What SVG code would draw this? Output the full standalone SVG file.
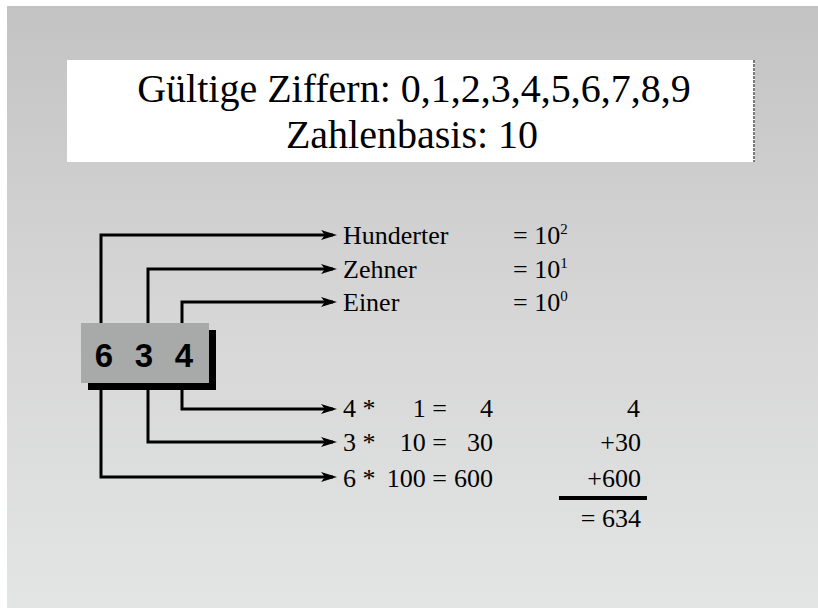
<svg xmlns="http://www.w3.org/2000/svg" width="818" height="608" viewBox="0 0 818 608">
<defs>
<linearGradient id="bg" x1="0" y1="0" x2="0" y2="1">
<stop offset="0" stop-color="#c3c3c3"/>
<stop offset="0.5" stop-color="#d6d6d6"/>
<stop offset="1" stop-color="#e3e4e4"/>
</linearGradient>
<marker id="arr" markerUnits="userSpaceOnUse" markerWidth="18" markerHeight="12" refX="12" refY="5" orient="auto">
<path d="M0,0 L16,5 L0,10 L4,5 z" fill="#000"/>
</marker>
<style>
.t{font-family:"Liberation Serif","Times New Roman",serif;fill:#000}
.lbl{font-size:26px}
.sup{font-size:15px}
.conn{fill:none;stroke:#000;stroke-width:3;marker-end:url(#arr)}
</style>
</defs>
<rect x="0" y="0" width="818" height="608" fill="#fff"/>
<rect x="7" y="6" width="811" height="602" fill="url(#bg)"/>
<g id="title">
<rect x="67" y="60" width="688" height="102" fill="#fff"/>
<line x1="754" y1="60" x2="754" y2="162" stroke="#7a7a7a" stroke-width="2" stroke-dasharray="3,1"/>
<text class="t" x="414" y="102" font-size="40" text-anchor="middle">Gültige Ziffern: 0,1,2,3,4,5,6,7,8,9</text>
<text class="t" x="412" y="148" font-size="40" text-anchor="middle">Zahlenbasis: 10</text>
</g>
<g id="number">
<rect x="88" y="330" width="128" height="60" fill="#000"/>
<rect x="81" y="323" width="128" height="60" fill="#a8aaaa"/>
<text x="104" y="367" font-family="'Liberation Sans',Arial,sans-serif" font-weight="bold" font-size="33" text-anchor="middle">6</text>
<text x="144" y="367" font-family="'Liberation Sans',Arial,sans-serif" font-weight="bold" font-size="33" text-anchor="middle">3</text>
<text x="184" y="367" font-family="'Liberation Sans',Arial,sans-serif" font-weight="bold" font-size="33" text-anchor="middle">4</text>
</g>
<g id="connectors">
<path class="conn" d="M101,323 V235 H333"/>
<path class="conn" d="M148,323 V269 H333"/>
<path class="conn" d="M182,323 V302 H333"/>
<path class="conn" d="M182,388 V409 H333"/>
<path class="conn" d="M148,388 V442 H333"/>
<path class="conn" d="M101,388 V477 H333"/>
</g>
<g id="hunderter">
<text class="t lbl" x="343" y="244">Hunderter</text>
<text class="t lbl" x="513" y="244">= 10<tspan class="sup" dy="-10">2</tspan></text>
</g>
<g id="zehner">
<text class="t lbl" x="343" y="278">Zehner</text>
<text class="t lbl" x="513" y="278">= 10<tspan class="sup" dy="-10">1</tspan></text>
</g>
<g id="einer">
<text class="t lbl" x="343" y="311">Einer</text>
<text class="t lbl" x="513" y="311">= 10<tspan class="sup" dy="-10">0</tspan></text>
</g>
<g id="calc1">
<text class="t lbl" x="343" y="417">4 *</text>
<text class="t lbl" x="447" y="417" text-anchor="end">1 =</text>
<text class="t lbl" x="493" y="417" text-anchor="end">4</text>
</g>
<g id="calc2">
<text class="t lbl" x="343" y="451">3 *</text>
<text class="t lbl" x="447" y="451" text-anchor="end">10 =</text>
<text class="t lbl" x="493" y="451" text-anchor="end">30</text>
</g>
<g id="calc3">
<text class="t lbl" x="343" y="487">6 *</text>
<text class="t lbl" x="447" y="487" text-anchor="end">100 =</text>
<text class="t lbl" x="493" y="487" text-anchor="end">600</text>
</g>
<g id="sum">
<text class="t lbl" x="640" y="417" text-anchor="end">4</text>
<text class="t lbl" x="641" y="451" text-anchor="end">+30</text>
<text class="t lbl" x="641" y="487" text-anchor="end">+600</text>
<rect x="559" y="496" width="88" height="4" fill="#000"/>
<text class="t lbl" x="641" y="527" text-anchor="end">= 634</text>
</g>
</svg>
